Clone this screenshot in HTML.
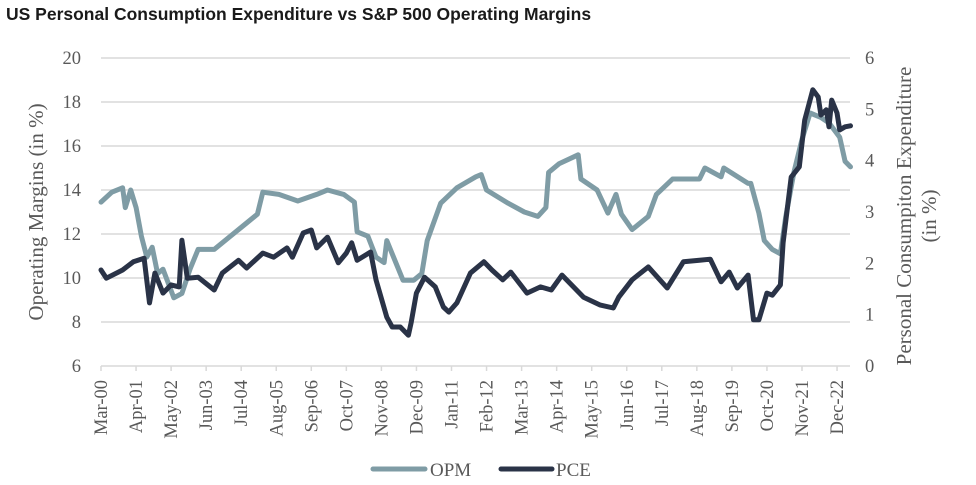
<!DOCTYPE html>
<html><head><meta charset="utf-8"><style>
body{margin:0;background:#fff;width:976px;height:485px;overflow:hidden}
svg{display:block}
</style></head><body>
<svg id="chart" width="976" height="485" xmlns="http://www.w3.org/2000/svg">
<text x="6" y="20" font-family="Liberation Sans, sans-serif" font-weight="bold" font-size="17.5" fill="#1a1a1a">US Personal Consumption Expenditure vs S&amp;P 500 Operating Margins</text>
<g id="grid"></g><g id="axes"></g><g id="series"></g>
<text transform="translate(43,212) rotate(-90)" text-anchor="middle" font-family="Liberation Serif, serif" font-size="21" fill="#595959">Operating Margins (in %)</text>
<text transform="translate(911,216) rotate(-90)" text-anchor="middle" font-family="Liberation Serif, serif" font-size="21" fill="#595959">Personal Consumpiton Expenditure</text>
<text transform="translate(936,216) rotate(-90)" text-anchor="middle" font-family="Liberation Serif, serif" font-size="21" fill="#595959">(in %)</text>
<g>
<line x1="373" y1="469" x2="425" y2="469" stroke="#7f9ca5" stroke-width="5" stroke-linecap="round"/>
<text x="430" y="476" font-family="Liberation Serif, serif" font-size="19" fill="#595959">OPM</text>
<line x1="501" y1="469" x2="552" y2="469" stroke="#2a3347" stroke-width="5" stroke-linecap="round"/>
<text x="556" y="476" font-family="Liberation Serif, serif" font-size="19" fill="#595959">PCE</text>
</g>
</svg>
<script>
const xLabels=["Mar-00","Apr-01","May-02","Jun-03","Jul-04","Aug-05","Sep-06","Oct-07","Nov-08","Dec-09","Jan-11","Feb-12","Mar-13","Apr-14","May-15","Jun-16","Jul-17","Aug-18","Sep-19","Oct-20","Nov-21","Dec-22"];
const leftTicks=[6,8,10,12,14,16,18,20];
const rightTicks=[0,1,2,3,4,5,6];
const opmMonths=[0,4,8,9,11,13,15,17,19,21,23,27,30,33,36,42,48,54,58,60,66,73,80,84,90,94,95,99,102,105,106,108,112,116,119,121,126,132,139,141,143,151,157,162,165,166,170,177,178,184,188,191,193,197,203,206,212,222,224,230,231,240,241,244,246,249,252,254,257,260,263,267,270,274,276,278];
const opmValues=[13.45,13.9,14.1,13.2,14,13.2,11.9,10.95,11.4,10.2,10.4,9.1,9.3,10.4,11.3,11.3,11.9,12.5,12.9,13.9,13.8,13.5,13.8,14.0,13.8,13.45,12.1,11.9,10.95,10.7,11.7,11.1,9.9,9.9,10.2,11.7,13.4,14.1,14.6,14.7,14.0,13.4,13.0,12.8,13.2,14.8,15.2,15.6,14.5,14.0,12.95,13.8,12.9,12.2,12.8,13.8,14.5,14.5,15.0,14.6,15.0,14.3,14.3,12.95,11.7,11.3,11.1,12.8,14.8,16.3,17.5,17.3,17.05,16.4,15.3,15.05];
const pceMonths=[0,2,8,12,16,18,20,23,26,29,30,32,36,42,45,51,54,60,64,69,71,75,78,80,84,88,91,93,95,100,102,106,108,111,114,115,117,120,124,127,129,132,137,142,145,149,152,158,163,167,171,179,185,190,192,197,203,210,216,222,226,230,233,236,240,242,244,247,249,252,253,256,259,261,264,266,267,269,270,271,273,274,276,278];
const pceValues=[1.87,1.71,1.87,2.03,2.1,1.23,1.81,1.42,1.58,1.54,2.45,1.71,1.73,1.48,1.81,2.06,1.91,2.2,2.12,2.3,2.12,2.59,2.65,2.3,2.51,2.01,2.2,2.4,2.06,2.22,1.68,0.95,0.76,0.76,0.6,0.84,1.42,1.73,1.54,1.15,1.05,1.23,1.81,2.03,1.87,1.68,1.83,1.42,1.54,1.48,1.77,1.34,1.19,1.13,1.34,1.68,1.93,1.52,2.03,2.06,2.08,1.64,1.83,1.52,1.77,0.9,0.9,1.42,1.38,1.58,2.4,3.68,3.88,4.79,5.38,5.24,4.89,4.99,4.66,5.18,4.93,4.6,4.66,4.68];

const NS="http://www.w3.org/2000/svg";
const X0=101, MPX=35.05/13, YB=366, YT=58;
const xs=m=>X0+m*MPX;
const yl=v=>YB-(v-6)*(YB-YT)/14;
const yr=v=>YB-v*(YB-YT)/6;
function mk(tag,attrs,parent,txt){const e=document.createElementNS(NS,tag);for(const k in attrs)e.setAttribute(k,attrs[k]);if(txt!==undefined)e.textContent=txt;parent.appendChild(e);return e;}
const grid=document.getElementById('grid'),axes=document.getElementById('axes'),series=document.getElementById('series');
leftTicks.forEach(v=>{
  const y=yl(v);
  const l=mk('line',{x1:X0,x2:850,y1:y,y2:y,stroke:'#d9d9d9','stroke-width':1.5},grid);
  
  
  const t=mk('text',{x:81,y:y+6,'text-anchor':'end','font-family':'Liberation Serif, serif','font-size':18.5,fill:'#595959'},axes,String(v));
  
  
});
rightTicks.forEach(v=>{
  const t=mk('text',{x:865,y:yr(v)+6,'font-family':'Liberation Serif, serif','font-size':18.5,fill:'#595959'},axes,String(v));
  
  
});
xLabels.forEach((s,i)=>{
  const x=xs(i*13);
  const tk=mk('line',{x1:x,x2:x,y1:366,y2:371,stroke:'#d9d9d9','stroke-width':1.5},axes);
  
  
  const t=mk('text',{transform:`translate(${x+6},380) rotate(-90)`,'text-anchor':'end','font-family':'Liberation Serif, serif','font-size':18.5,fill:'#595959'},axes,s);
  
  
});
function line(ms,vs,yf,color,name){
  const d=ms.map((m,i)=>(i?'L':'M')+xs(m).toFixed(1)+','+yf(vs[i]).toFixed(1)).join('');
  const p=mk('path',{d:d,fill:'none',stroke:color,'stroke-width':5,'stroke-linejoin':'round','stroke-linecap':'round'},series);
  
  
}
line(opmMonths,opmValues,yl,'#7f9ca5','opm-line');
line(pceMonths,pceValues,yr,'#2a3347','pce-line');
</script>
</body></html>
